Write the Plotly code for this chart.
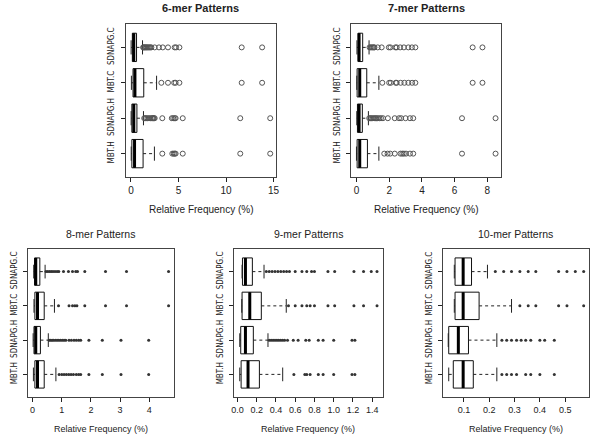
import plotly.graph_objects as go

categories = ["MBT.H", "SDNAPG.H", "MBT.C", "SDNAPG.C"]
panel_titles = ["6-mer Patterns", "7-mer Patterns", "8-mer Patterns", "9-mer Patterns", "10-mer Patterns"]
x_label = "Relative Frequency (%)"

# ---- 6-mer (order: MBT.H, SDNAPG.H, MBT.C, SDNAPG.C)
mer6_lo = [0.03, 0.02, 0.05, 0.02]
mer6_q1 = [0.10, 0.10, 0.22, 0.15]
mer6_med = [0.38, 0.30, 0.42, 0.30]
mer6_q3 = [1.28, 0.63, 1.35, 0.59]
mer6_hi = [2.47, 1.32, 2.70, 1.22]
mer6_out = [
    [3.3, 4.35, 4.5, 4.6, 4.7, 5.45, 11.5, 14.65],
    [1.4, 1.5, 1.6, 1.75, 1.9, 2.05, 2.2, 2.28, 2.35, 2.42, 2.5, 3.3, 4.3, 4.45, 4.6, 4.7, 5.45, 11.5, 14.65],
    [3.2, 3.9, 4.55, 4.7, 5.1, 11.65, 13.8],
    [1.28, 1.35, 1.42, 1.5, 1.58, 1.66, 1.75, 1.85, 1.95, 2.05, 2.15, 2.5, 2.95, 3.35, 3.9, 4.6, 4.75, 5.1, 11.65, 13.8],
]
mer6_ticks = [0, 5, 10, 15]

# ---- 7-mer
mer7_lo = [0.00, 0.02, 0.02, 0.03]
mer7_q1 = [0.04, 0.06, 0.04, 0.10]
mer7_med = [0.20, 0.16, 0.20, 0.16]
mer7_q3 = [0.67, 0.36, 0.63, 0.38]
mer7_hi = [1.37, 0.73, 1.37, 0.77]
mer7_out = [
    [1.7, 1.9, 2.06, 2.34, 2.69, 2.8, 2.9, 3.03, 3.27, 3.47, 6.45, 8.5],
    [0.78, 0.85, 0.92, 1.0, 1.08, 1.15, 1.22, 1.3, 1.4, 1.5, 1.62, 1.92, 2.34, 2.6, 2.73, 3.0, 3.27, 3.47, 6.45, 8.5],
    [1.58, 2.0, 2.1, 2.4, 2.46, 2.7, 2.93, 3.17, 3.4, 3.6, 7.1, 7.7],
    [0.8, 0.87, 0.94, 1.0, 1.06, 1.1, 1.3, 1.54, 1.98, 2.08, 2.38, 2.46, 2.67, 2.9, 3.17, 3.39, 3.6, 7.1, 7.7],
]
mer7_ticks = [0, 2, 4, 6, 8]

# ---- 8-mer
mer8_lo = [0.03, 0.02, 0.05, 0.04]
mer8_q1 = [0.08, 0.05, 0.08, 0.07]
mer8_med = [0.17, 0.11, 0.17, 0.11]
mer8_q3 = [0.40, 0.27, 0.40, 0.25]
mer8_hi = [0.80, 0.54, 0.75, 0.43]
mer8_out = [
    [0.91, 1.0, 1.08, 1.16, 1.24, 1.32, 1.4, 1.5, 1.58, 1.65, 1.93, 2.39, 3.03, 3.98],
    [0.57, 0.62, 0.67, 0.72, 0.78, 0.84, 0.9, 0.96, 1.02, 1.08, 1.14, 1.25, 1.33, 1.42, 1.5, 1.58, 1.65, 1.93, 2.39, 3.03, 3.98],
    [0.89, 1.25, 1.37, 1.45, 1.52, 1.79, 2.5, 3.22, 4.66],
    [0.46, 0.52, 0.58, 0.64, 0.7, 0.77, 0.84, 0.9, 1.06, 1.23, 1.37, 1.48, 1.54, 1.79, 2.5, 3.22, 4.66],
]
mer8_ticks = [0, 1, 2, 3, 4]

# ---- 9-mer
mer9_lo = [0.024, 0.024, 0.045, 0.048]
mer9_q1 = [0.038, 0.034, 0.048, 0.052]
mer9_med = [0.11, 0.083, 0.128, 0.083]
mer9_q3 = [0.228, 0.165, 0.248, 0.155]
mer9_hi = [0.47, 0.317, 0.507, 0.276]
mer9_out = [
    [0.586, 0.70, 0.72, 0.755, 0.84, 0.89, 1.0, 1.19, 1.22],
    [0.33, 0.35, 0.37, 0.39, 0.41, 0.43, 0.45, 0.47, 0.49, 0.52, 0.58, 0.63, 0.71, 0.745, 0.84, 0.89, 1.0, 1.19, 1.22],
    [0.53, 0.60, 0.67, 0.72, 0.755, 0.80, 0.94, 1.01, 1.21, 1.31, 1.45],
    [0.30, 0.33, 0.36, 0.39, 0.42, 0.45, 0.48, 0.51, 0.54, 0.60, 0.67, 0.72, 0.77, 0.80, 0.94, 1.01, 1.21, 1.31, 1.39, 1.45],
]
mer9_ticks = [0.0, 0.2, 0.4, 0.6, 0.8, 1.0, 1.2, 1.4]

# ---- 10-mer
mer10_lo = [0.040, 0.038, 0.062, 0.062]
mer10_q1 = [0.058, 0.040, 0.065, 0.065]
mer10_med = [0.097, 0.078, 0.097, 0.097]
mer10_q3 = [0.137, 0.118, 0.160, 0.130]
mer10_hi = [0.230, 0.230, 0.288, 0.193]
mer10_out = [
    [0.25, 0.269, 0.288, 0.308, 0.344, 0.364, 0.40, 0.457],
    [0.25, 0.269, 0.288, 0.308, 0.326, 0.344, 0.364, 0.40, 0.419, 0.457],
    [0.321, 0.354, 0.384, 0.474, 0.507, 0.573],
    [0.224, 0.257, 0.288, 0.321, 0.354, 0.384, 0.474, 0.507, 0.54, 0.573],
]
mer10_ticks = [0.1, 0.2, 0.3, 0.4, 0.5]

panels = [
    (mer6_lo, mer6_q1, mer6_med, mer6_q3, mer6_hi, mer6_out, mer6_ticks, ""),
    (mer7_lo, mer7_q1, mer7_med, mer7_q3, mer7_hi, mer7_out, mer7_ticks, ""),
    (mer8_lo, mer8_q1, mer8_med, mer8_q3, mer8_hi, mer8_out, mer8_ticks, ""),
    (mer9_lo, mer9_q1, mer9_med, mer9_q3, mer9_hi, mer9_out, mer9_ticks, ".1f"),
    (mer10_lo, mer10_q1, mer10_med, mer10_q3, mer10_hi, mer10_out, mer10_ticks, ".1f"),
]

# ---- layout (pixel frames of each panel)
W, H = 600, 439
frames = [(124, 276, 24, 177), (352, 504, 24, 177),
          (25, 173, 249, 397), (234, 384, 249, 397), (445, 593, 249, 397)]
is_top = [True, True, False, False, False]

fig = go.Figure()
annotations = []
layout_axes = {}
FONT = "Liberation Sans, Arial, sans-serif"
NARROW = "Liberation Sans Narrow, Arial Narrow, DejaVu Sans Condensed, sans-serif"

for k, (lo, q1, med, q3, hi, outs, ticks, fmt) in enumerate(panels):
    n = k + 1
    xa = "x" if n == 1 else f"x{n}"
    ya = "y" if n == 1 else f"y{n}"
    ypos = list(range(1, len(categories) + 1))
    top = is_top[k]

    # box bodies
    fig.add_trace(go.Box(
        y=ypos, q1=q1, median=med, q3=q3, lowerfence=q1, upperfence=q3,
        orientation="h", width=0.8, whiskerwidth=0, boxpoints=False,
        fillcolor="white", line=dict(color="#111", width=1),
        xaxis=xa, yaxis=ya, showlegend=False, hoverinfo="skip"))

    # whiskers (dashed), staples, medians
    wx, wy, sx, sy, mx, my = [], [], [], [], [], []
    for i, p in enumerate(ypos):
        wx += [q3[i], hi[i], None, lo[i], q1[i], None]
        wy += [p, p, None, p, p, None]
        sx += [hi[i], hi[i], None, lo[i], lo[i], None]
        sy += [p - 0.2, p + 0.2, None, p - 0.2, p + 0.2, None]
        mx += [med[i], med[i], None]
        my += [p - 0.4, p + 0.4, None]
    fig.add_trace(go.Scatter(x=wx, y=wy, mode="lines", xaxis=xa, yaxis=ya,
                             line=dict(color="#222", width=1, dash="3px,3px"),
                             showlegend=False, hoverinfo="skip"))
    fig.add_trace(go.Scatter(x=sx, y=sy, mode="lines", xaxis=xa, yaxis=ya,
                             line=dict(color="#222", width=1),
                             showlegend=False, hoverinfo="skip"))
    fig.add_trace(go.Scatter(x=mx, y=my, mode="lines", xaxis=xa, yaxis=ya,
                             line=dict(color="#000", width=3),
                             showlegend=False, hoverinfo="skip"))

    # outliers
    ox, oy = [], []
    for i, p in enumerate(ypos):
        ox += outs[i]
        oy += [p] * len(outs[i])
    if top:
        marker = dict(symbol="circle-open", size=5, color="#555", line=dict(width=1, color="#555"))
    else:
        marker = dict(symbol="circle", size=3, color="#333")
    fig.add_trace(go.Scatter(x=ox, y=oy, mode="markers", xaxis=xa, yaxis=ya,
                             marker=marker, showlegend=False, hoverinfo="skip"))

    # R-style range: data range +/- 4%
    allv = lo + hi + [v for o in outs for v in o]
    vmin, vmax = min(allv), max(allv)
    pad = 0.04 * (vmax - vmin)

    x0, x1, y0, y1 = frames[k]
    tick_size = 10 if top else 9
    xkey = "xaxis" if n == 1 else f"xaxis{n}"
    ykey = "yaxis" if n == 1 else f"yaxis{n}"
    layout_axes[xkey] = dict(
        domain=[x0 / W, x1 / W], anchor=ya, range=[vmin - pad, vmax + pad],
        tickvals=ticks, tickformat=fmt, ticks="outside", ticklen=4, tickcolor="#222",
        showline=True, mirror=True, linecolor="#444", linewidth=1,
        showgrid=False, zeroline=False,
        tickfont=dict(family=FONT, size=tick_size, color="#222"))
    layout_axes[ykey] = dict(
        domain=[1 - y1 / H, 1 - y0 / H], anchor=xa, range=[0.34, 4.66],
        tickvals=ypos, ticktext=categories, tickangle=-90,
        ticks="outside", ticklen=4, tickcolor="#222", ticklabelstandoff=3,
        showline=True, mirror=True, linecolor="#444", linewidth=1,
        showgrid=False, zeroline=False,
        tickfont=dict(family=NARROW, size=8, color="#222"))

    cx = (x0 + x1) / 2 / W
    annotations.append(dict(
        text=(f"<b>{panel_titles[k]}</b>" if top else panel_titles[k]),
        x=cx, y=1 - (8 if top else 234) / H, xref="paper", yref="paper",
        showarrow=False, xanchor="center", yanchor="middle",
        font=dict(family=FONT, size=11 if top else 10.5, color="#222")))
    annotations.append(dict(
        text=x_label, x=cx, y=1 - (209 if top else 429) / H, xref="paper", yref="paper",
        showarrow=False, xanchor="center", yanchor="middle",
        font=dict(family=FONT, size=10 if top else 9, color="#222")))

fig.update_layout(
    width=W, height=H, margin=dict(l=0, r=0, t=0, b=0),
    paper_bgcolor="white", plot_bgcolor="white",
    annotations=annotations, showlegend=False, **layout_axes)

fig.write_html("out.html", config={"displayModeBar": False, "staticPlot": True},
               post_script="document.body.style.margin='0';document.body.style.padding='0';")
